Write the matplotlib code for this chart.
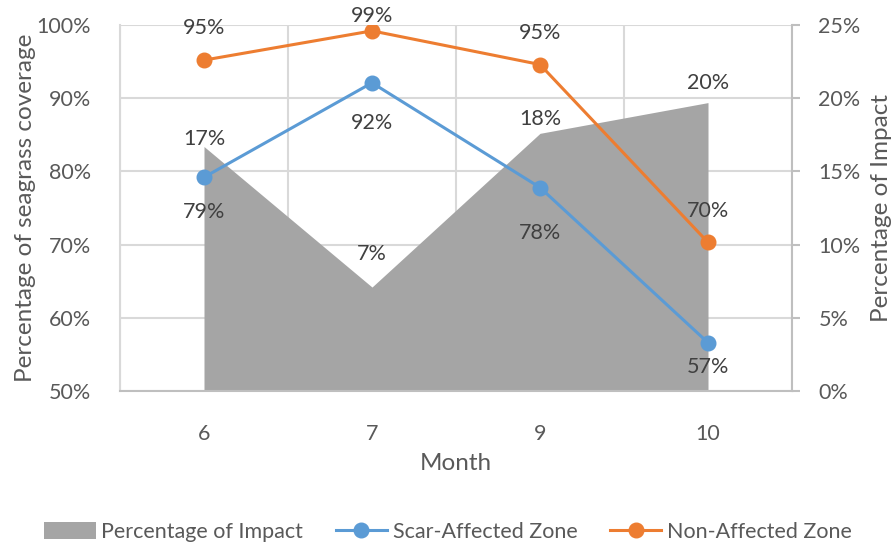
import matplotlib
matplotlib.use("Agg")
import matplotlib.pyplot as plt
from matplotlib.patches import Patch
from matplotlib.lines import Line2D
from matplotlib.ticker import PercentFormatter, FixedLocator
import numpy as np

plt.rcParams['font.family'] = ['Lato', 'DejaVu Sans']

# ---- data ----
months = ["6", "7", "9", "10"]
impact_pct = [16.7, 7.1, 17.6, 19.7]          # right axis, %
scar_pct = [79.2, 92.1, 77.8, 56.6]           # left axis, %
non_affected_pct = [95.2, 99.2, 94.6, 70.3]   # left axis, %

# label offsets in pixels (x, y) relative to each point
impact_off = [(0, 8), (0, 33), (0, 14), (0, 20)]
scar_off = [(0, -35), (0, -40), (0, -45), (0, -24)]
non_off = [(0, 32), (0, 15), (0, 32), (0, 31)]

GRAY = "#A5A5A5"
BLUE = "#5B9BD5"
ORANGE = "#ED7D31"
TXT = "#595959"
LBL = "#404040"
GRID = "#D9D9D9"
AXIS = "#BFBFBF"
FS = 15.5
FS_AX = 17.5

fig = plt.figure(figsize=(8.96, 5.48), dpi=100)
ax = fig.add_axes([120 / 896, 1 - 391 / 548, 672 / 896, 366 / 548])
ax2 = ax.twinx()
ax.set_zorder(2)
ax2.set_zorder(1)
ax.patch.set_visible(False)

x = np.arange(len(months))
ax.set_xlim(-0.5, len(months) - 0.5)

# ---- area series on secondary axis ----
imp = np.array(impact_pct) / 100
ax2.fill_between(x, 0, imp, color=GRAY, linewidth=0, zorder=1)
ax2.set_ylim(0, 0.25)
ax2.yaxis.set_major_locator(FixedLocator(np.arange(0, 0.2501, 0.05)))
ax2.yaxis.set_major_formatter(PercentFormatter(1.0, decimals=0))
ax2.set_axisbelow(True)
ax2.grid(axis='y', color=GRID, linewidth=1.5)
for b in np.arange(len(months) + 1) - 0.5:
    ax2.axvline(b, color=GRID, linewidth=1.5, zorder=0.5)

for xi, v, (dx, dy) in zip(x, imp, impact_off):
    ax2.annotate(f"{v:.0%}", (xi, v), xytext=(dx, dy), textcoords='offset pixels',
                 ha='center', va='center', fontsize=FS, color=LBL)

# ---- line series on primary axis ----
scar = np.array(scar_pct) / 100
non = np.array(non_affected_pct) / 100
ax.plot(x, scar, color=BLUE, lw=2.2, marker='o', ms=10.5, zorder=3)
ax.plot(x, non, color=ORANGE, lw=2.2, marker='o', ms=10.5, zorder=3)
for xi, v, (dx, dy) in zip(x, scar, scar_off):
    ax.annotate(f"{v:.0%}", (xi, v), xytext=(dx, dy), textcoords='offset pixels',
                ha='center', va='center', fontsize=FS, color=LBL)
for xi, v, (dx, dy) in zip(x, non, non_off):
    ax.annotate(f"{v:.0%}", (xi, v), xytext=(dx, dy), textcoords='offset pixels',
                ha='center', va='center', fontsize=FS, color=LBL, annotation_clip=False)

ax.set_ylim(0.5, 1.0)
ax.yaxis.set_major_locator(FixedLocator(np.arange(0.5, 1.001, 0.1)))
ax.yaxis.set_major_formatter(PercentFormatter(1.0, decimals=0))
ax.set_xticks(x)
ax.set_xticklabels(months)

# ---- axes styling ----
for s in ["top", "right"]:
    ax.spines[s].set_visible(False)
ax.spines["left"].set_color(GRID)
ax.spines["left"].set_linewidth(1.5)
ax.spines["bottom"].set_color(AXIS)
ax.spines["bottom"].set_linewidth(1.5)
for s in ["top", "left", "bottom"]:
    ax2.spines[s].set_visible(False)
ax2.spines["right"].set_color(AXIS)
ax2.spines["right"].set_linewidth(1.5)

ax.tick_params(axis='y', length=0, pad=21, labelsize=FS, labelcolor=TXT)
ax.tick_params(axis='x', length=0, pad=24, labelsize=FS, labelcolor=TXT)
ax2.tick_params(axis='y', length=6, width=1.5, color=AXIS, direction='out',
                pad=13, labelsize=FS, labelcolor=TXT)

ax.set_ylabel("Percentage of seagrass coverage", fontsize=FS_AX, color=TXT)
ax.yaxis.set_label_coords(-0.125, 0.5)
ax2.set_ylabel("Percentage of Impact", fontsize=FS_AX, color=TXT)
ax2.yaxis.set_label_coords(1.118, 0.5)
ax.set_xlabel("Month", fontsize=FS_AX, color=TXT)
ax.xaxis.set_label_coords(0.5, -0.17)

# ---- legend ----
handles = [
    Patch(facecolor=GRAY, edgecolor='none'),
    Line2D([], [], color=BLUE, lw=2.2, marker='o', ms=10.5),
    Line2D([], [], color=ORANGE, lw=2.2, marker='o', ms=10.5),
]
labels = ["Percentage of Impact", "Scar-Affected Zone", "Non-Affected Zone"]
fig.legend(handles, labels, loc='center', bbox_to_anchor=(0.5, 1 - 532 / 548),
           ncol=3, frameon=False, fontsize=FS, labelcolor=TXT,
           handlelength=2.4, handleheight=0.8, handletextpad=0.25, columnspacing=1.5)

fig.savefig("out.png", dpi=100)
